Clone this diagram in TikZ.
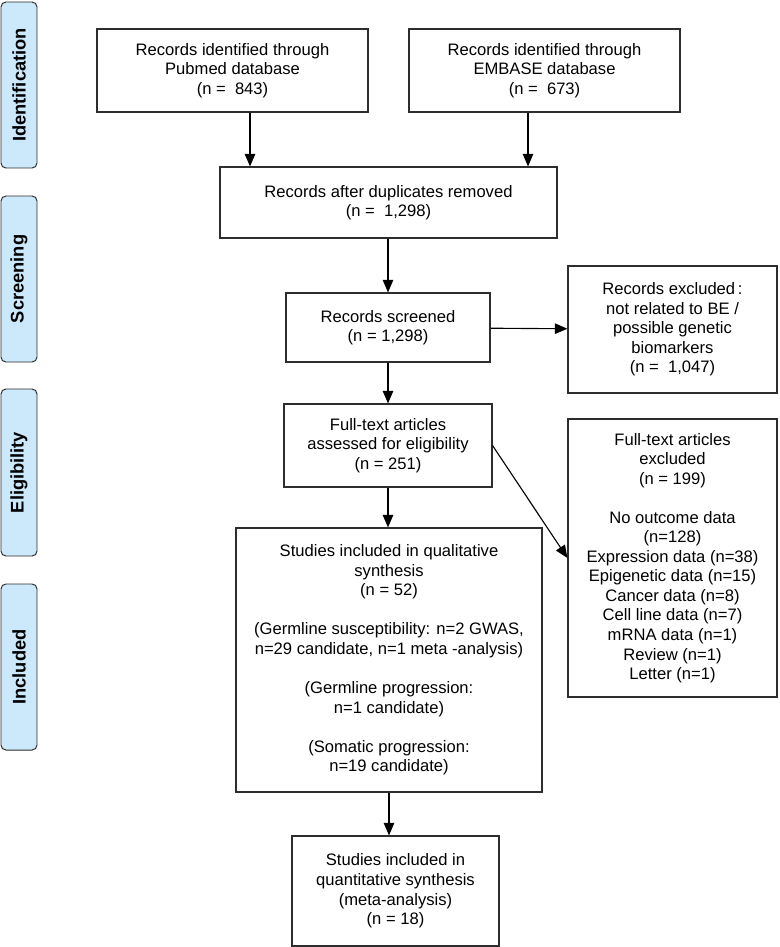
\documentclass[tikz,border=0pt]{standalone}
\usepackage{fontspec}
\setmainfont{Liberation Sans}
\usetikzlibrary{arrows.meta,shapes}
\definecolor{phaseBlau}{RGB}{204,232,251}
\definecolor{rand}{RGB}{45,45,45}
\tikzstyle{box} = [draw=rand,line width=0.8pt,rectangle,align=center,inner sep=2pt,font=\fontsize{11.8}{13.9}\selectfont]
\tikzstyle{phase} = [draw=rand,line width=0.7pt,fill=phaseBlau,rectangle,rounded corners=3.5pt,rotate=90,minimum height=0.9cm,inner sep=1pt,font=\fontsize{13}{15}\selectfont\bfseries]
\tikzstyle{edge} = [-{Triangle[length=9pt,width=7.5pt]},line width=0.8pt,draw=black]

\begin{document}
\begin{tikzpicture}
\path[use as bounding box] (0,0) rectangle (19.475,-23.675);

\node[phase,minimum width=4.15cm] (Id) at (0.475,-2.125) {Identification};
\node[phase,minimum width=4.15cm] (Sc) at (0.475,-6.975) {Screening};
\node[phase,minimum width=4.175cm] (El) at (0.475,-11.8125) {Eligibility};
\node[phase,minimum width=4.15cm] (In) at (0.475,-16.675) {Included};

\node[box,minimum width=6.775cm,minimum height=2.075cm] (Pub) at (5.8125,-1.7625) {Records identified through\\Pubmed database\\(n = \ 843)};
\node[box,minimum width=6.775cm,minimum height=2.075cm] (Emb) at (13.6125,-1.7625) {Records identified through\\EMBASE database\\(n = \ 673)};

\node[box,minimum width=8.425cm,minimum height=1.775cm] (Dup) at (9.7125,-5.0625) {Records after duplicates removed\\(n = \ 1,298)};

\node[box,minimum width=5.1cm,minimum height=1.725cm] (Scr) at (9.7,-8.1875) {Records screened\\(n = 1,298)};
\node[box,minimum width=5.225cm,minimum height=3.175cm] (Ex1) at (16.8125,-8.2375) {Records excluded\,:\\not related to BE /\\possible genetic\\biomarkers\\(n = \ 1,047)};

\node[box,minimum width=5.2cm,minimum height=2.075cm] (Full) at (9.7,-11.1375) {Full-text articles\\assessed for eligibility\\(n = 251)};
\node[box,minimum width=5.225cm,minimum height=6.95cm] (Ex2) at (16.8125,-13.95) {Full-text articles\\excluded\\(n = 199)\\[13.9pt]No outcome data\\(n=128)\\Expression data (n=38)\\Epigenetic data (n=15)\\Cancer data (n=8)\\Cell line data (n=7)\\mRNA data (n=1)\\Review (n=1)\\Letter (n=1)};

\node[box,minimum width=7.65cm,minimum height=6.6cm] (Qual) at (9.725,-16.5) {Studies included in qualitative\\synthesis\\(n = 52)\\[13.9pt](Germline susceptibility: n=2 GWAS,\\n=29 candidate, n=1 meta -analysis)\\[13.9pt](Germline progression:\\n=1 candidate)\\[13.9pt](Somatic progression:\\n=19 candidate)};

\node[box,minimum width=5.175cm,minimum height=2.75cm] (Quant) at (9.8875,-22.275) {Studies included in\\quantitative synthesis\\(meta-analysis)\\(n = 18)};

\coordinate (a1) at ([xshift=0.4375cm]Pub.south);
\coordinate (a2) at ([xshift=-0.4125cm]Emb.south);
\draw[edge] (a1) -- (a1 |- Dup.north);
\draw[edge] (a2) -- (a2 |- Dup.north);
\draw[edge] (Scr.north |- Dup.south) -- (Scr.north);
\draw[edge] (Scr) -- (Ex1);
\draw[edge] (Scr.south) -- (Full.north);
\draw[edge] (Full.east) -- (Ex2.west);
\draw[edge] (Full.south) -- (Full.south |- Qual.north);
\draw[edge] (Qual.south |- Qual.south) -- (Qual.south |- Quant.north);
\end{tikzpicture}
\end{document}
